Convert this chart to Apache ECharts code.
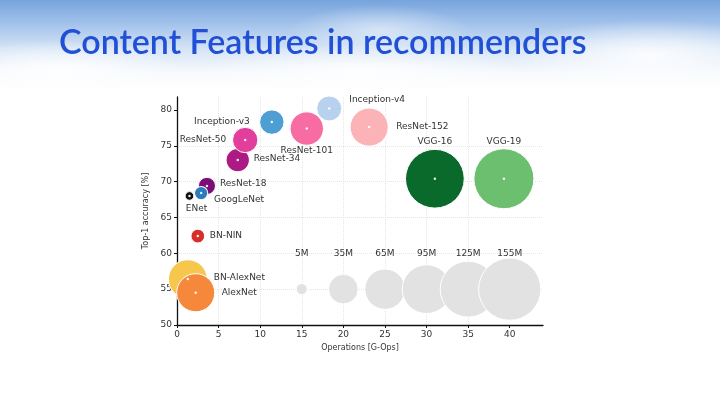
<!DOCTYPE html>
<html>
<head>
<meta charset="utf-8">
<script src="https://cdn.jsdelivr.net/npm/echarts@6/dist/echarts.min.js"></script>
<style>
  html, body { margin: 0; padding: 0; }
  body {
    width: 720px; height: 403px; overflow: hidden;
    background:
      radial-gradient(ellipse 120px 30px at 60px 70px, rgba(255,255,255,0.9), rgba(255,255,255,0) 100%),
      radial-gradient(ellipse 160px 28px at 360px 72px, rgba(255,255,255,0.85), rgba(255,255,255,0) 100%),
      radial-gradient(ellipse 140px 35px at 650px 55px, rgba(255,255,255,0.9), rgba(255,255,255,0) 100%),
      radial-gradient(ellipse 90px 25px at 380px 30px, rgba(255,255,255,0.5), rgba(255,255,255,0) 100%),
      linear-gradient(#76a4dc 0px, #9fc0ea 22px, #d7e5f6 50px, #f6f9fd 72px, #ffffff 90px);
  }
  #chart { width: 720px; height: 403px; }
</style>
</head>
<body>
<div id="chart"></div>
<script>
  // models: name, G-Ops, top-1 accuracy, params (M) -- later entries are drawn on top
  const models = ['BN-AlexNet', 'AlexNet', 'BN-NIN', 'ENet', 'ResNet-18', 'GoogLeNet', 'ResNet-34',
    'ResNet-50', 'Inception-v3', 'Inception-v4', 'ResNet-101', 'ResNet-152', 'VGG-16', 'VGG-19'];
  const ops = [1.3, 2.25, 2.5, 1.5, 3.6, 2.9, 7.3, 8.2, 11.4, 18.3, 15.6, 23.1, 31.0, 39.3];
  const accuracy = [56.4, 54.5, 62.4, 68.0, 69.4, 68.4, 73.0, 75.8, 78.3, 80.2, 77.4, 77.6, 70.4, 70.4];
  const params = [60, 58, 7.5, 3, 11.7, 7, 21.8, 25.6, 23.8, 25, 44.5, 58, 138, 144];

  // size legend bubbles
  const refLabels = ['5M', '35M', '65M', '95M', '125M', '155M'];
  const refOps = [15, 20, 25, 30, 35, 40];
  const refAcc = [55, 55, 55, 55, 55, 55];
  const refParams = [5, 35, 65, 95, 125, 155];

  const colors = ['#f7c64c', '#f5883a', '#d62f2a', '#111111', '#7a0d78', '#2c7bbd', '#ae1a83',
    '#e13f9b', '#4c9ed3', '#b8d1ee', '#f66ca3', '#fbb3b8', '#0a6a2b', '#6bbf6e'];
  // label placement relative to bubble centre
  const labelPos = [
    ['left', 26, -1], ['left', 26, 0], ['left', 12, 0], ['center', 7, 13], ['left', 13, -2],
    ['left', 13, 7], ['left', 16, -1], ['right', -19, 0], ['right', -22, 0], ['left', 20, -9],
    ['center', 0, 22], ['left', 27, 0], ['center', 0, -37], ['center', 0, -37]
  ];

  const size = m => 5 * Math.sqrt(m);
  const textFont = 'DejaVu Sans';

  const chart = echarts.init(document.getElementById('chart'));

  const axisCommon = {
    axisLine: { lineStyle: { color: '#111', width: 1.3 } },
    axisTick: { length: 3, lineStyle: { color: '#111' } },
    axisLabel: { color: '#333', fontSize: 9, fontFamily: textFont, margin: 5, showMaxLabel: false },
    splitLine: { show: true, showMaxLine: false, showMinLine: false, lineStyle: { color: '#e6e6e6', type: 'dotted' } },
    nameTextStyle: { color: '#333', fontSize: 8, fontFamily: textFont },
  };

  chart.setOption({
    animation: false,
    title: {
      text: 'Content Features in recommenders',
      left: 54, top: 21,
      textStyle: { color: '#2150d6', fontSize: 34, fontWeight: 600, fontFamily: 'Lato' }
    },
    grid: { left: 177, right: 177, top: 97, bottom: 78 },
    xAxis: {
      type: 'value', min: 0, max: 44, interval: 5,
      name: 'Operations [G-Ops]', nameLocation: 'middle', nameGap: 18,
      ...axisCommon,
      axisTick: { ...axisCommon.axisTick, customValues: [0, 5, 10, 15, 20, 25, 30, 35, 40] },
    },
    yAxis: {
      type: 'value', min: 50, max: 81.8, interval: 5,
      name: 'Top-1 accuracy [%]', nameLocation: 'middle', nameGap: 17,
      ...axisCommon,
      axisTick: { ...axisCommon.axisTick, customValues: [50, 55, 60, 65, 70, 75, 80] },
    },
    series: [
      {
        type: 'scatter',
        data: refOps.map((x, i) => ({
          value: [x, refAcc[i], refParams[i]],
          name: refLabels[i],
        })),
        symbolSize: v => size(v[2]),
        itemStyle: { color: '#e2e2e2', borderColor: '#fff', borderWidth: 1, opacity: 1 },
        label: {
          show: true, position: 'inside', offset: [0, -35],
          formatter: p => p.name,
          color: '#333', fontSize: 9, fontFamily: textFont
        },
        silent: true,
        z: 2
      },
      {
        type: 'scatter',
        data: models.map((n, i) => ({
          value: [ops[i], accuracy[i], params[i]],
          name: n,
          itemStyle: { color: colors[i] },
          label: { align: labelPos[i][0], offset: [labelPos[i][1], labelPos[i][2]] }
        })),
        symbolSize: v => size(v[2]),
        itemStyle: { borderColor: '#fff', borderWidth: 1, opacity: 1 },
        label: {
          show: true, position: 'inside', verticalAlign: 'middle',
          formatter: p => p.name,
          color: '#333', fontSize: 9, fontFamily: textFont
        },
        silent: true,
        z: 3
      },
      {
        // centre dots
        type: 'scatter',
        data: models.map((n, i) => [ops[i], accuracy[i]]),
        symbolSize: 2.5,
        itemStyle: { color: '#fff', opacity: 0.9 },
        silent: true,
        z: 4
      }
    ]
  });
</script>
</body>
</html>
